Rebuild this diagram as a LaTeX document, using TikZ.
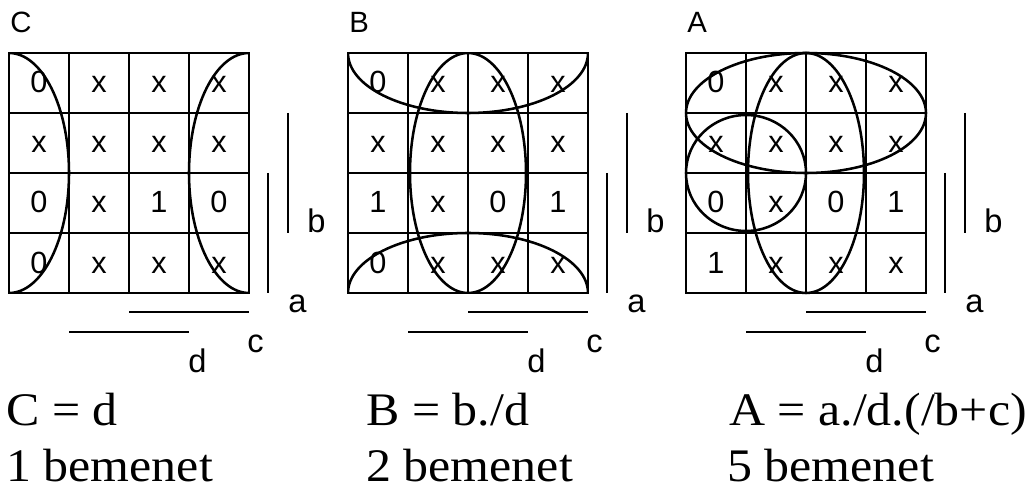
\documentclass[tikz,border=0pt]{standalone}
\usepackage{fontspec}
\setmainfont{Liberation Serif}
\newfontfamily\arialf{Liberation Sans}
\newcommand\widetext[1]{\scalebox{1.07}[1]{#1}}
\newcommand\kmap[3]{%
  \begin{scope}[shift={(#2,0)}]
    \node[maptitle] (#1-t) at (10,33) {#1};
    \foreach \row [count=\r] in {#3} {
      \foreach \v [count=\c] in \row {
        \node[cell] (#1-\r-\c) at (60*\c-21, 60*\r+33) {\v};
      }
    }
    \foreach \i in {0,...,4} {
      \draw[gridline] (9+60*\i,53) -- (9+60*\i,293);
      \draw[gridline] (9,53+60*\i) -- (249,53+60*\i);
    }
    \draw[bar] (288,113) -- (288,233);
    \draw[bar] (268,173) -- (268,293);
    \draw[bar] (129,312) -- (249,312);
    \draw[bar] (69,332) -- (189,332);
    \node[varlab] (#1-b) at (307,233) {b};
    \node[varlab] (#1-a) at (288,312) {a};
    \node[varlab] (#1-c) at (247,352) {c};
    \node[varlab] (#1-d) at (188,372) {d};
  \end{scope}%
}
\begin{document}
\begin{tikzpicture}[x=0.75pt,y=-0.75pt,
  gridline/.style={line width=2.2pt, line cap=rect},
  loopline/.style={line width=1.9pt},
  bar/.style={line width=2.2pt},
  cell/.style={anchor=base, inner sep=0pt, font=\arialf\fontsize{23pt}{27pt}\selectfont},
  maptitle/.style={anchor=base west, inner sep=0pt, font=\arialf\fontsize{22pt}{26pt}\selectfont},
  varlab/.style={anchor=base west, inner sep=0pt, font=\arialf\fontsize{24.5pt}{29pt}\selectfont},
  eq/.style={anchor=base west, inner sep=0pt, font=\fontsize{35pt}{42pt}\selectfont}]
\useasboundingbox (0,0) rectangle (1031,488);

\kmap{C}{0}{{0,x,x,x},{x,x,x,x},{0,x,1,0},{0,x,x,x}}
\kmap{B}{339}{{0,x,x,x},{x,x,x,x},{1,x,0,1},{0,x,x,x}}
\kmap{A}{677}{{0,x,x,x},{x,x,x,x},{0,x,0,1},{1,x,x,x}}

% loops of map C
\begin{scope}
  \clip (9,53) rectangle (249,293);
  \draw[loopline] (9,173) ellipse [x radius=45pt, y radius=90pt];
  \draw[loopline] (249,173) ellipse [x radius=45pt, y radius=90pt];
\end{scope}
% loops of map B
\begin{scope}[shift={(339,0)}]
  \clip (9,53) rectangle (249,293);
  \draw[loopline] (129,53) ellipse [x radius=90pt, y radius=45pt];
  \draw[loopline] (129,293) ellipse [x radius=90pt, y radius=45pt];
  \draw[loopline] (129,173) ellipse [x radius=43.5pt, y radius=90pt];
\end{scope}
% loops of map A
\begin{scope}[shift={(677,0)}]
  \draw[loopline] (129,113) ellipse [x radius=90pt, y radius=45pt];
  \draw[loopline] (129,173) ellipse [x radius=43.5pt, y radius=90pt];
  \draw[loopline] (69,173) ellipse [x radius=45pt, y radius=43.5pt];
\end{scope}

\node[eq] (eqC) at (6,425) {\widetext{C = d}};
\node[eq] (inC) at (6,481) {\widetext{1 bemenet}};
\node[eq] (eqB) at (366,425) {\widetext{B = b./d}};
\node[eq] (inB) at (366,481) {\widetext{2 bemenet}};
\node[eq] (eqA) at (729,425) {\widetext{A = a./d.(/b+c)}};
\node[eq] (inA) at (727,481) {\widetext{5 bemenet}};
\end{tikzpicture}
\end{document}
